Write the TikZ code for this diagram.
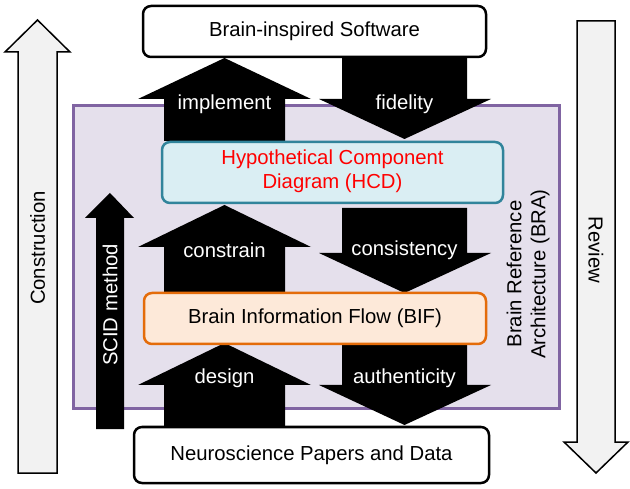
\documentclass[tikz,border=0pt]{standalone}
\usepackage{fontspec}
\setmainfont{Liberation Sans}
\definecolor{braFill}{HTML}{E5E0EC}
\definecolor{braLine}{HTML}{8064A2}
\definecolor{hcdFill}{HTML}{DAEEF3}
\definecolor{hcdLine}{HTML}{31849B}
\definecolor{bifFill}{HTML}{FDE9D9}
\definecolor{bifLine}{HTML}{E46C0A}
\definecolor{greyArrow}{HTML}{F2F2F2}
\begin{document}
\begin{tikzpicture}[x=1pt,y=-1pt,
  txt/.style={font=\fontsize{20.3}{24}\selectfont, inner sep=0pt},
  lbl/.style={txt, text=white},
  bbox/.style={draw=black, line width=2.5pt, rounded corners=8pt, fill=white},
  blockarrow/.style={fill=black, draw=none},
  greyarrow/.style={fill=greyArrow, draw=black, line width=1.5pt, line join=miter}]
\useasboundingbox (0,0) rectangle (630,489);
% BRA background
\draw[fill=braFill, draw=braLine, line width=3pt] (73,106) rectangle (559,409);
% side arrows
\draw[greyarrow] (18,473) -- (18,52) -- (5,52) -- (37.5,20) -- (70,52) -- (57,52) -- (57,473) -- cycle;
\draw[greyarrow] (577,21) -- (615,21) -- (615,442) -- (628,442) -- (596,473) -- (564,442) -- (577,442) -- cycle;
\node[txt, rotate=90] (construction) at (37.5,248) {Construction};
\node[txt, rotate=-90] (review) at (596,250) {Review};
% SCID arrow
\fill[blockarrow] (96,429) -- (96,218) -- (85,218) -- (110,193) -- (134,218) -- (124,218) -- (124,429) -- cycle;
\node[lbl, rotate=90] (scid) at (110,305) {SCID method};
% up arrows
\fill[blockarrow] (164,141) -- (164,99) -- (138,99) -- (224.5,58) -- (311,99) -- (285,99) -- (285,141) -- cycle;
\fill[blockarrow] (164,293) -- (164,247) -- (138,247) -- (224.5,205) -- (311,247) -- (285,247) -- (285,293) -- cycle;
\fill[blockarrow] (164,427) -- (164,385) -- (138,385) -- (224.5,343) -- (311,385) -- (285,385) -- (285,427) -- cycle;
% down arrows
\fill[blockarrow] (342,56) -- (467,56) -- (467,99) -- (491,99) -- (404.5,139) -- (319,99) -- (342,99) -- cycle;
\fill[blockarrow] (342,208) -- (467,208) -- (467,253) -- (491,253) -- (404.5,293) -- (319,253) -- (342,253) -- cycle;
\fill[blockarrow] (342,343) -- (467,343) -- (467,385) -- (491,385) -- (404.5,425) -- (319,385) -- (342,385) -- cycle;
% arrow labels
\node[lbl] (implement) at (224.5,104) {implement};
\node[lbl] (fidelity) at (404.5,104) {fidelity};
\node[lbl] (constrain) at (224.5,250) {constrain};
\node[lbl] (consistency) at (404.5,250) {consistency};
\node[lbl] (design) at (224.5,378) {design};
\node[lbl] (authenticity) at (404.5,378) {authenticity};
% boxes
\draw[bbox] (143,6) rectangle (486,57);
\node[txt] (software) at (314.5,31) {Brain-inspired Software};
\draw[bbox, fill=hcdFill, draw=hcdLine] (162,142) rectangle (503,203);
\node[txt, text=red, align=center] (hcd) at (332.5,171) {Hypothetical Component\\Diagram (HCD)};
\draw[bbox, fill=bifFill, draw=bifLine] (144,293) rectangle (486,344);
\node[txt] (bif) at (315,318) {Brain Information Flow (BIF)};
\draw[bbox] (134,427) rectangle (489,483);
\node[txt] (neuro) at (311.5,455) {Neuroscience Papers and Data};
% BRA label
\node[txt, rotate=90, align=center] (bra) at (528,274) {Brain Reference\\Architecture (BRA)};
\end{tikzpicture}
\end{document}
